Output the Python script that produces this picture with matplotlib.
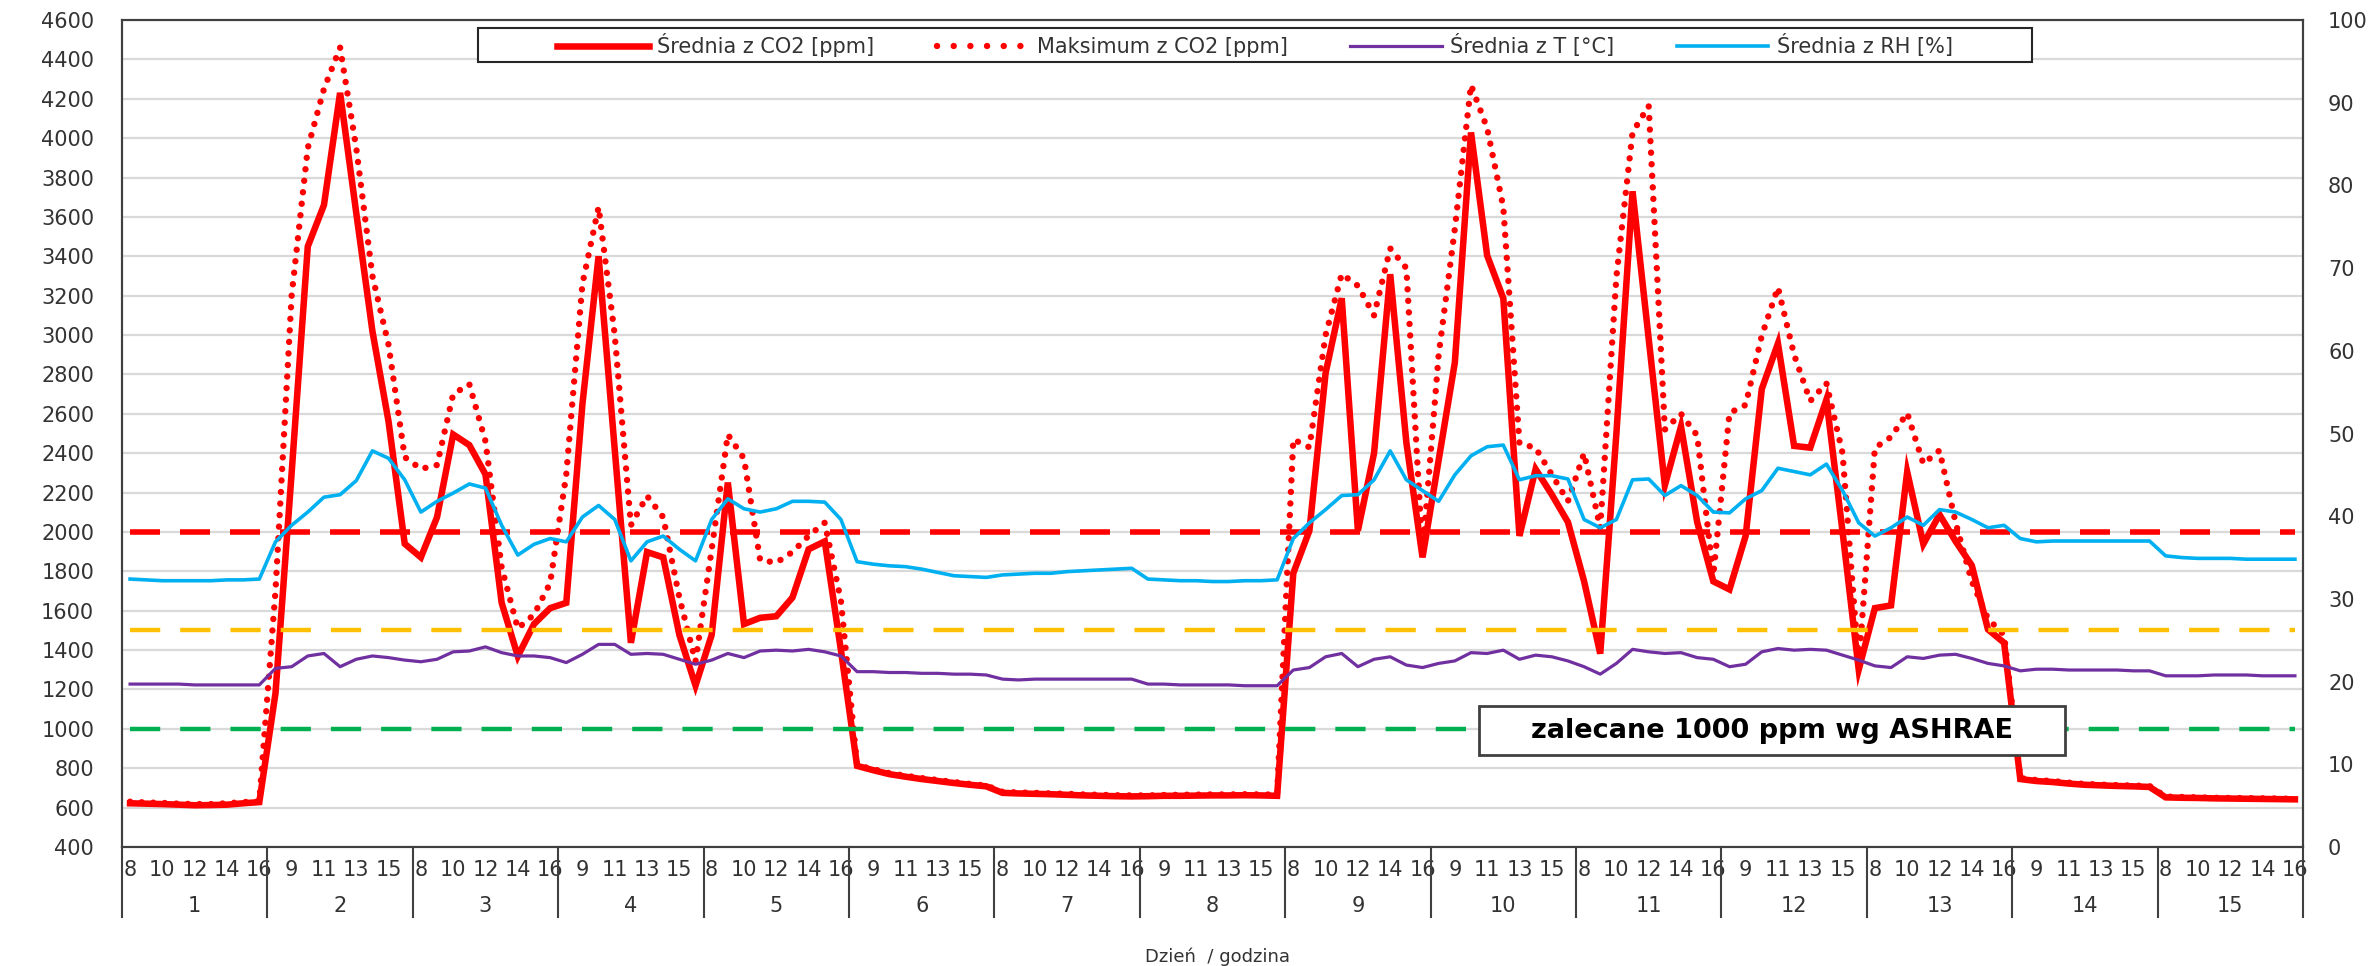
import matplotlib
matplotlib.use("Agg")
import matplotlib.pyplot as plt
import matplotlib.transforms as mtransforms
import numpy as np
from matplotlib.lines import Line2D
from matplotlib.patches import Rectangle

# dane: 15 dni x godziny 8-16
DAYS = list(range(1, 16))
HOURS = list(range(8, 17))

co2_mean = [
    622, 620, 618, 615, 612, 613, 615, 622, 628,
    1180, 2300, 3450, 3660, 4230, 3620, 3020, 2560, 1940,
    1871, 2075, 2495, 2441, 2292, 1640, 1369, 1532, 1613,
    1640, 2650, 3400, 2420, 1437, 1898, 1871, 1477, 1220,
    1477, 2251, 1532, 1564, 1572, 1667, 1912, 1952, 1400,
    812, 790, 770, 757, 745, 735, 725, 716, 708,
    675, 672, 670, 668, 665, 662, 660, 658, 657,
    658, 660, 660, 661, 662, 662, 663, 662, 660,
    1790, 2007, 2807, 3187, 2007, 2400, 3309, 2454, 1871,
    2365, 2860, 4029, 3404, 3187, 1980, 2319, 2190, 2050,
    1750, 1382, 2500, 3730, 2980, 2237, 2536, 2050, 1749,
    1708, 1980, 2726, 2957, 2437, 2428, 2672, 2000, 1301,
    1613, 1627, 2305, 1939, 2088, 1952, 1830, 1505, 1437,
    745, 735, 730, 722, 716, 713, 710, 708, 705,
    652, 650, 649, 647, 646, 645, 644, 643, 642,
]

co2_max = [
    630, 626, 624, 620, 618, 618, 622, 628, 632,
    1700, 3200, 3950, 4250, 4460, 3950, 3300, 2950, 2380,
    2320, 2340, 2700, 2750, 2460, 1820, 1510, 1580, 1740,
    2292, 3260, 3650, 3000, 2034, 2183, 2075, 1667, 1342,
    1912, 2495, 2373, 1857, 1844, 1898, 1980, 2047, 1650,
    815, 795, 775, 762, 750, 740, 730, 720, 712,
    680, 677, 675, 672, 670, 667, 665, 663, 662,
    662, 664, 665, 666, 667, 667, 668, 667, 666,
    2470, 2430, 3000, 3310, 3250, 3100, 3440, 3340, 1890,
    2900, 3540, 4270, 4050, 3650, 2450, 2427, 2292, 2156,
    2400, 2020, 3296, 4029, 4164, 2520, 2600, 2490, 1780,
    2604, 2645, 2997, 3242, 2900, 2665, 2755, 2400, 1320,
    2427, 2482, 2604, 2346, 2414, 2047, 1749, 1559, 1477,
    750, 740, 735, 727, 720, 717, 714, 712, 710,
    656, 654, 652, 650, 649, 648, 647, 646, 645,
]

temp = [
    19.7, 19.7, 19.7, 19.7, 19.6, 19.6, 19.6, 19.6, 19.6,
    21.6, 21.8, 23.1, 23.4, 21.8, 22.7, 23.1, 22.9, 22.6,
    22.4, 22.7, 23.6, 23.7, 24.2, 23.5, 23.1, 23.1, 22.9,
    22.3, 23.3, 24.5, 24.5, 23.3, 23.4, 23.3, 22.7, 22.1,
    22.6, 23.4, 22.9, 23.7, 23.8, 23.7, 23.9, 23.6, 23.1,
    21.2, 21.2, 21.1, 21.1, 21.0, 21.0, 20.9, 20.9, 20.8,
    20.3, 20.2, 20.3, 20.3, 20.3, 20.3, 20.3, 20.3, 20.3,
    19.7, 19.7, 19.6, 19.6, 19.6, 19.6, 19.5, 19.5, 19.5,
    21.4, 21.7, 23.0, 23.4, 21.8, 22.7, 23.0, 22.0, 21.7,
    22.2, 22.5, 23.5, 23.4, 23.8, 22.7, 23.2, 23.0, 22.5,
    21.8, 20.9, 22.2, 23.9, 23.6, 23.4, 23.5, 22.9, 22.7,
    21.8, 22.1, 23.6, 24.0, 23.8, 23.9, 23.8, 23.2, 22.6,
    21.9, 21.7, 23.0, 22.8, 23.2, 23.3, 22.8, 22.2, 21.9,
    21.3, 21.5, 21.5, 21.4, 21.4, 21.4, 21.4, 21.3, 21.3,
    20.7, 20.7, 20.7, 20.8, 20.8, 20.8, 20.7, 20.7, 20.7,
]

rh = [
    32.4, 32.3, 32.2, 32.2, 32.2, 32.2, 32.3, 32.3, 32.4,
    36.9, 38.9, 40.5, 42.3, 42.6, 44.3, 47.9, 47.0, 44.4,
    40.5, 41.8, 42.8, 43.9, 43.4, 38.9, 35.3, 36.6, 37.3,
    36.9, 39.9, 41.3, 39.6, 34.6, 36.9, 37.6, 36.0, 34.6,
    39.6, 42.1, 40.9, 40.5, 40.9, 41.8, 41.8, 41.7, 39.6,
    34.5, 34.2, 34.0, 33.9, 33.6, 33.2, 32.8, 32.7, 32.6,
    32.9, 33.0, 33.1, 33.1, 33.3, 33.4, 33.5, 33.6, 33.7,
    32.4, 32.3, 32.2, 32.2, 32.1, 32.1, 32.2, 32.2, 32.3,
    37.3, 39.2, 40.8, 42.5, 42.6, 44.4, 47.9, 44.4, 43.1,
    41.8, 45.0, 47.3, 48.4, 48.6, 44.4, 44.9, 44.9, 44.5,
    39.6, 38.6, 39.6, 44.4, 44.5, 42.5, 43.7, 42.5, 40.5,
    40.4, 42.1, 43.1, 45.8, 45.4, 45.0, 46.3, 43.1, 39.2,
    37.6, 38.6, 39.9, 38.9, 40.8, 40.5, 39.6, 38.6, 38.9,
    37.3, 36.9, 37.0, 37.0, 37.0, 37.0, 37.0, 37.0, 37.0,
    35.2, 35.0, 34.9, 34.9, 34.9, 34.8, 34.8, 34.8, 34.8,
]

# progi CO2 [ppm]
limits = [2000, 1500, 1000]
limit_colors = ["#FF0000", "#FFC000", "#00B050"]

TEXT = "#333333"
FRAME = "#404040"
W, H = 2374, 966

plt.rcParams["font.family"] = ["DejaVu Sans"]

fig = plt.figure(figsize=(W / 100, H / 100), dpi=100)
left, right, top, bottom = 122, 2303, 20, 847
ax = fig.add_axes([left / W, 1 - bottom / H, (right - left) / W, (bottom - top) / H])

x = np.arange(len(co2_mean))
n_h = len(HOURS)

ax.plot(x, co2_mean, color="#FF0000", lw=4.7, solid_joinstyle="miter", zorder=3)
ax.plot(x, co2_max, color="#FF0000", lw=4.6, linestyle=(0, (0.01, 1.8)),
        dash_capstyle="round", zorder=3)

limit_styles = [(4.0, (5.4, 3.6)), (3.2, (6.8, 4.5)), (3.2, (6.8, 4.5))]
for val, col, (lw, dash) in zip(limits, limit_colors, limit_styles):
    ax.plot(x, np.full(len(x), val), color=col, lw=lw, linestyle=(0, dash),
            dash_capstyle="butt", zorder=4)

ax.set_xlim(-0.5, len(x) - 0.5)
ax.set_ylim(400, 4600)
ax.set_yticks(np.arange(400, 4601, 200))
ax.grid(axis="y", color="#D9D9D9", lw=1.6)
ax.set_axisbelow(True)

ax.set_xticks(x[::2])
ax.set_xticklabels([str(HOURS[i % n_h]) for i in x[::2]])
ax.tick_params(axis="x", length=0, pad=9, labelsize=15, labelcolor=TEXT)
ax.tick_params(axis="y", length=0, pad=20, labelsize=15, labelcolor=TEXT)

ax2 = ax.twinx()
ax2.plot(x, temp, color="#7030A0", lw=2.3)
ax2.plot(x, rh, color="#00B0F0", lw=2.6)
ax2.set_ylim(0, 100)
ax2.set_yticks(np.arange(0, 101, 10))
ax2.tick_params(axis="y", length=0, pad=18, labelsize=15, labelcolor=TEXT)

for a in (ax, ax2):
    for sp in a.spines.values():
        sp.set_color(FRAME)
        sp.set_linewidth(1.5)

# dni pod osia + linie podzialu
trans = mtransforms.blended_transform_factory(ax.transData, ax.transAxes)
ax_h = bottom - top
sep_y = -(917 - bottom) / ax_h
day_y = -(906 - bottom) / ax_h
for k, d in enumerate(DAYS):
    ax.text(k * n_h + (n_h - 1) / 2, day_y, str(d), transform=trans,
            ha="center", va="center", fontsize=15, color=TEXT)
for k in range(len(DAYS) + 1):
    ax.plot([k * n_h - 0.5] * 2, [0, sep_y], transform=trans, clip_on=False,
            color=FRAME, lw=1.5)

fig.text(1218 / W, 1 - 957 / H, "Dzień  / godzina", ha="center", va="center",
         fontsize=13, color=TEXT)

# legenda
handles = [
    Line2D([], [], color="#FF0000", lw=4.7),
    Line2D([], [], color="#FF0000", lw=4.6, linestyle=(0, (0.01, 2.6)), dash_capstyle="round"),
    Line2D([], [], color="#7030A0", lw=2.3),
    Line2D([], [], color="#00B0F0", lw=2.6),
]
labels = ["Średnia z CO2 [ppm]", "Maksimum z CO2 [ppm]", "Średnia z T [°C]", "Średnia z RH [%]"]
fig.add_artist(Rectangle((478 / W, 1 - 62 / H), (2032 - 478) / W, 34 / H,
                         transform=fig.transFigure, facecolor="white",
                         edgecolor="#262626", lw=1.5, zorder=4))
fig.legend(handles, labels, loc="center", bbox_to_anchor=(1255 / W, 1 - 45 / H),
           ncol=4, frameon=False, fontsize=15, handlelength=4.4, handletextpad=0.4,
           columnspacing=3.0, labelcolor=TEXT)

# ramka z opisem
fig.add_artist(Rectangle((1479 / W, 1 - 755 / H), (2065 - 1479) / W, 49 / H,
                         transform=fig.transFigure, facecolor="white",
                         edgecolor=FRAME, lw=2, zorder=6))
fig.text(1772 / W, 1 - 731 / H, "zalecane 1000 ppm wg ASHRAE", ha="center", va="center",
         fontsize=19.5, fontweight="bold", color="black", zorder=7)

fig.savefig("out.png", dpi=100)
